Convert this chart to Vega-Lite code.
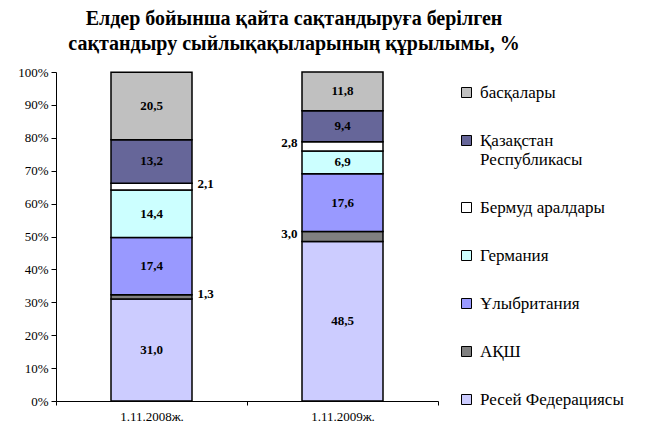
{
  "$schema": "https://vega.github.io/schema/vega-lite/v6.json",
  "width": 382,
  "height": 329,
  "autosize": "none",
  "padding": {"left": 56, "top": 72, "right": 230, "bottom": 24},
  "background": "white",
  "title": {
    "text": ["Елдер бойынша қайта сақтандыруға берілген", "сақтандыру сыйлықақыларының құрылымы, %"],
    "font": "Liberation Serif",
    "fontSize": 20,
    "fontWeight": "bold",
    "color": "black",
    "anchor": "middle",
    "dx": 47,
    "offset": 12,
    "lineHeight": 25
  },
  "data": {
    "values": [
      {"date": "1.11.2008ж.", "country": "Ресей Федерациясы", "order": 1, "value": 31.0},
      {"date": "1.11.2008ж.", "country": "АҚШ", "order": 2, "value": 1.3},
      {"date": "1.11.2008ж.", "country": "Ұлыбритания", "order": 3, "value": 17.4},
      {"date": "1.11.2008ж.", "country": "Германия", "order": 4, "value": 14.4},
      {"date": "1.11.2008ж.", "country": "Бермуд аралдары", "order": 5, "value": 2.1},
      {"date": "1.11.2008ж.", "country": "Қазақстан Республикасы", "order": 6, "value": 13.2},
      {"date": "1.11.2008ж.", "country": "басқалары", "order": 7, "value": 20.5},
      {"date": "1.11.2009ж.", "country": "Ресей Федерациясы", "order": 1, "value": 48.5},
      {"date": "1.11.2009ж.", "country": "АҚШ", "order": 2, "value": 3.0},
      {"date": "1.11.2009ж.", "country": "Ұлыбритания", "order": 3, "value": 17.6},
      {"date": "1.11.2009ж.", "country": "Германия", "order": 4, "value": 6.9},
      {"date": "1.11.2009ж.", "country": "Бермуд аралдары", "order": 5, "value": 2.8},
      {"date": "1.11.2009ж.", "country": "Қазақстан Республикасы", "order": 6, "value": 9.4},
      {"date": "1.11.2009ж.", "country": "басқалары", "order": 7, "value": 11.8}
    ]
  },
  "transform": [
    {"stack": "value", "groupby": ["date"], "sort": [{"field": "order", "order": "ascending"}], "as": ["v0", "v1"]},
    {"calculate": "(datum.v0 + datum.v1) / 2", "as": "mid"}
  ],
  "encoding": {
    "x": {
      "field": "date",
      "type": "nominal",
      "scale": {"paddingInner": 0, "paddingOuter": 0},
      "axis": {
        "title": null,
        "labelAngle": 0,
        "labelFont": "Liberation Serif",
        "labelFontSize": 13,
        "labelColor": "black",
        "tickBand": "extent",
        "tickSize": 4,
        "tickColor": "black",
        "domainColor": "black",
        "labelPadding": 5
      }
    }
  },
  "resolve": {"axis": {"y": "independent"}},
  "layer": [
    {
      "mark": {"type": "bar", "size": 81, "stroke": "black", "strokeWidth": 1.5},
      "encoding": {
        "y": {
          "field": "v0",
          "type": "quantitative",
          "scale": {"domain": [0, 100]},
          "axis": {
            "title": null,
            "values": [0, 10, 20, 30, 40, 50, 60, 70, 80, 90, 100],
            "labelOverlap": false,
            "labelExpr": "datum.value + '%'",
            "labelFont": "Liberation Serif",
            "labelFontSize": 13,
            "labelColor": "black",
            "tickSize": 5,
            "tickColor": "black",
            "domainColor": "black",
            "grid": false,
            "labelPadding": 3
          }
        },
        "y2": {"field": "v1"},
        "color": {
          "field": "country",
          "type": "nominal",
          "scale": {
            "domain": ["басқалары", "Қазақстан Республикасы", "Бермуд аралдары", "Германия", "Ұлыбритания", "АҚШ", "Ресей Федерациясы"],
            "range": ["#C0C0C0", "#666699", "#FFFFFF", "#CCFFFF", "#9999FF", "#808080", "#CCCCFF"]
          },
          "legend": {
            "orient": "none",
            "legendX": 402,
            "legendY": 12,
            "title": null,
            "padding": 0,
            "rowPadding": 30,
            "symbolType": "square",
            "symbolSize": 100,
            "symbolStrokeColor": "black",
            "symbolStrokeWidth": 1,
            "labelFont": "Liberation Serif",
            "labelFontSize": 17,
            "labelColor": "black",
            "labelLimit": 300,
            "labelOffset": 5,
            "labelExpr": "datum.label == 'Қазақстан Республикасы' ? ['Қазақстан', 'Республикасы'] : datum.label"
          }
        }
      }
    },
    {
      "transform": [{"filter": "datum.value >= 5"}],
      "mark": {"type": "text", "font": "Liberation Serif", "fontSize": 13, "fontWeight": "bold", "color": "black"},
      "encoding": {
        "y": {"field": "mid", "type": "quantitative", "axis": null},
        "text": {"field": "value", "type": "quantitative", "format": ".1f"}
      }
    },
    {
      "transform": [{"filter": "datum.value < 5 && datum.date == '1.11.2008ж.'"}],
      "mark": {"type": "text", "font": "Liberation Serif", "fontSize": 13, "fontWeight": "bold", "color": "black", "align": "left", "dx": 46, "dy": -3},
      "encoding": {
        "y": {"field": "mid", "type": "quantitative", "axis": null},
        "text": {"field": "value", "type": "quantitative", "format": ".1f"}
      }
    },
    {
      "transform": [{"filter": "datum.value < 5 && datum.date == '1.11.2009ж.'"}],
      "mark": {"type": "text", "font": "Liberation Serif", "fontSize": 13, "fontWeight": "bold", "color": "black", "align": "right", "dx": -45, "dy": -3},
      "encoding": {
        "y": {"field": "mid", "type": "quantitative", "axis": null},
        "text": {"field": "value", "type": "quantitative", "format": ".1f"}
      }
    }
  ],
  "config": {
    "view": {"stroke": null},
    "locale": {
      "number": {"decimal": ",", "thousands": " ", "grouping": [3], "currency": ["", ""]}
    }
  }
}
